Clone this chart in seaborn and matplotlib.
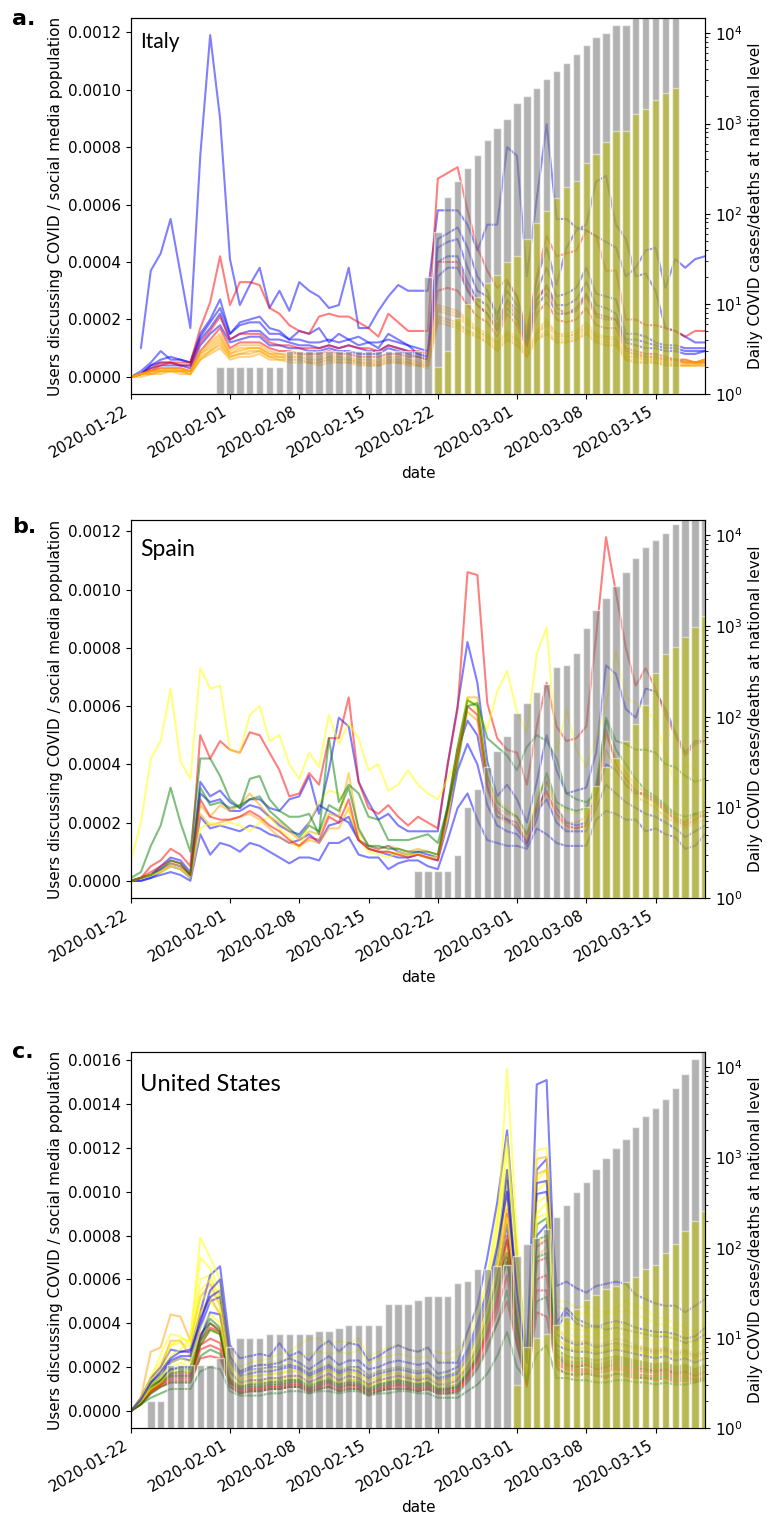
"""
Social media COVID discussion vs. national case/death counts
(Italy, Spain, United States).
"""

import numpy as np
import pandas as pd
import matplotlib
matplotlib.use("Agg")
import matplotlib.pyplot as plt
import matplotlib.dates as mdates
import seaborn as sns

nan = np.nan
SCALE = 1e-5  # line values below are in units of 1e-5

DATES = pd.date_range("2020-01-22", "2020-03-20", freq="D")
TICK_DATES = ["2020-01-22", "2020-02-01", "2020-02-08", "2020-02-15",
              "2020-02-22", "2020-03-01", "2020-03-08", "2020-03-15"]

# ---------------- Italy ----------------
IT_BLUE_1 = [nan, 10, 37, 43, 55, 36, 17, 77, 119, 90,
             41, 25, 32, 38, 24, 30, 23, 33, 30, 28,
             24, 25, 38, 17, 17, 23, 28, 32, 30, 30,
             30, 58, 58, 58, 53, 44, 53, 53, 80, 77,
             35, 62, 88, 55, 55, 52, 51, 49, 47, 45,
             35, 38, 44, 45, 31, 41, 38, 41, 42]
IT_RED_1 = [0, 1, 2, 4, 5, 5, 5, 17, 26, 42,
            25, 33, 33, 32, 24, 22, 18, 16, 15, 21,
            22, 21, 21, 19, 17, 14, 22, 19, 16, 16,
            16, 69, 71, 73, 58, 45, 37, 31, 34, 28,
            16, 35, 49, 42, 43, 44, 51, 49, 37, 37,
            20, 20, 18, 18, 17, 16, 14, 16, 16]
IT_BLUE_2 = [0, 1, 4, 6, 7, 6, 5, 14, 19, 24,
             15, 18, 19, 19, 15, 15, 13, 13, 12, 12,
             13, 12, 13, 14, 12, 12, 13, 12, 11, 10,
             9, 48, 50, 52, 45, 35, 30, 20, 33, 28,
             14, 34, 45, 32, 45, 51, 53, 68, 70, 53,
             48, 35, 36, 30, 17, 16, 14, 12, 12]
IT_BLUE_3 = [0, 2, 5, 9, 6, 6, 5, 15, 20, 27,
             15, 19, 20, 21, 17, 16, 13, 16, 15, 17,
             12, 15, 13, 11, 12, 10, 15, 13, 11, 8,
             7, 45, 47, 48, 38, 30, 28, 22, 30, 25,
             13, 30, 38, 28, 29, 31, 38, 29, 28, 27,
             15, 15, 14, 12, 11, 11, 10, 10, 10]
IT_BLUE_4 = [0, 1, 4, 5, 5, 4, 4, 13, 17, 22,
             13, 15, 16, 16, 13, 13, 12, 11, 11, 10,
             11, 10, 11, 10, 9, 9, 11, 10, 9, 8,
             7, 40, 42, 42, 33, 27, 25, 18, 27, 23,
             12, 27, 32, 25, 25, 27, 33, 25, 24, 22,
             13, 13, 12, 11, 10, 10, 9, 9, 9]
IT_BLUE_5 = [0, 1, 3, 4, 4, 4, 3, 11, 15, 18,
             12, 13, 14, 14, 11, 11, 10, 10, 9, 9,
             10, 9, 9, 8, 8, 8, 10, 9, 8, 7,
             6, 35, 38, 38, 30, 25, 22, 16, 24, 20,
             11, 25, 29, 22, 22, 24, 29, 22, 21, 20,
             12, 11, 10, 10, 9, 9, 8, 8, 9]
IT_RED_2 = [0, 1, 3, 5, 5, 4, 4, 12, 16, 21,
            13, 15, 15, 15, 12, 11, 11, 10, 10, 10,
            11, 10, 11, 10, 10, 9, 11, 10, 9, 9,
            8, 40, 40, 40, 31, 25, 22, 17, 26, 21,
            11, 27, 31, 24, 22, 23, 28, 21, 20, 20,
            10, 9, 8, 8, 7, 6, 6, 5, 6]
IT_RED_3 = [0, 1, 2, 3, 3, 3, 2, 9, 13, 17,
            10, 12, 12, 12, 10, 9, 9, 8, 8, 8,
            9, 8, 8, 7, 7, 7, 8, 8, 7, 7,
            6, 30, 31, 30, 25, 21, 19, 14, 22, 18,
            10, 22, 26, 20, 19, 20, 24, 18, 17, 17,
            9, 8, 7, 7, 6, 6, 5, 5, 5]
IT_ORANGE_1 = [0, 1, 2, 3, 3, 3, 2, 9, 12, 15,
               9, 11, 11, 11, 9, 8, 8, 8, 7, 7,
               8, 7, 7, 6, 6, 6, 7, 7, 6, 6,
               5, 25, 24, 23, 20, 17, 15, 12, 16, 14,
               9, 16, 20, 15, 15, 16, 19, 15, 14, 14,
               8, 8, 7, 7, 6, 6, 6, 5, 6]
IT_ORANGE_2 = [0, 1, 2, 2, 2, 2, 2, 8, 10, 13,
               8, 9, 10, 10, 8, 7, 7, 7, 6, 6,
               7, 6, 6, 5, 5, 5, 6, 6, 5, 5,
               4, 23, 22, 21, 18, 16, 14, 11, 15, 13,
               8, 15, 18, 14, 14, 15, 17, 14, 13, 13,
               7, 7, 6, 6, 5, 5, 5, 5, 5]
IT_ORANGE_3 = [0, 1, 1, 2, 2, 2, 1, 7, 9, 11,
               7, 8, 8, 9, 7, 6, 6, 6, 5, 5,
               6, 5, 5, 5, 4, 4, 5, 5, 5, 4,
               4, 21, 20, 19, 16, 15, 13, 10, 14, 12,
               7, 14, 16, 13, 13, 14, 16, 13, 12, 12,
               6, 6, 6, 5, 5, 4, 4, 4, 5]
IT_ORANGE_4 = [0, 0, 1, 1, 2, 1, 1, 6, 8, 10,
               6, 7, 7, 8, 6, 6, 5, 5, 5, 4,
               5, 5, 5, 4, 4, 4, 5, 5, 4, 4,
               3, 19, 18, 17, 15, 14, 12, 9, 13, 11,
               7, 13, 15, 12, 12, 13, 15, 12, 11, 11,
               6, 5, 5, 5, 4, 4, 4, 4, 4]
IT_ORANGE_5 = [0, 1, 2, 2, 3, 2, 2, 8, 11, 14,
               8, 10, 10, 10, 8, 8, 7, 7, 6, 6,
               7, 7, 6, 6, 6, 5, 7, 6, 6, 5,
               5, 24, 23, 22, 19, 16, 14, 12, 15, 13,
               8, 15, 19, 15, 14, 15, 18, 14, 14, 13,
               7, 7, 7, 6, 6, 5, 5, 5, 6]
IT_ORANGE_6 = [0, 1, 1, 2, 2, 2, 1, 6, 9, 12,
               7, 8, 9, 9, 7, 7, 6, 6, 5, 5,
               6, 6, 6, 5, 5, 4, 6, 5, 5, 4,
               4, 20, 19, 18, 16, 14, 12, 9, 13, 11,
               7, 13, 15, 12, 12, 13, 15, 12, 11, 11,
               6, 5, 5, 5, 4, 4, 4, 4, 4]

IT_CASES_START = "2020-01-31"
IT_CASES = [2, 2, 2, 2, 2, 2, 2,
            3, 3, 3, 3, 3, 3, 3, 3, 3, 3, 3, 3, 3, 3,
            20, 62, 155, 229, 322, 453, 655, 888, 1128, 1694,
            2036, 2502, 3089, 3858, 4636, 5883, 7375, 9172, 10149, 12462,
            12462, 17660, 21157, 24747, 27980, 31506]
IT_DEATHS_START = "2020-02-21"
IT_DEATHS = [1, 2, 3, 7, 10, 12, 17, 21, 29, 34,
             52, 79, 107, 148, 197, 233, 366, 463, 631, 827,
             827, 1266, 1441, 1809, 2158, 2503]

# ---------------- Spain ----------------
ES_YELLOW_1 = [7, 20, 42, 48, 66, 41, 35, 73, 66, 67,
               45, 44, 57, 60, 48, 50, 40, 35, 44, 39,
               57, 47, 54, 49, 38, 40, 31, 33, 38, 33,
               30, 28, 35, 42, 63, 58, 52, 65, 72, 58,
               51, 78, 87, 44, 59, 45, 39, 49, 60, 79,
               63, 61, 59, 55, 43, 33, 40, 38, 25]
ES_RED_1 = [0, 1, 5, 7, 11, 9, 5, 50, 42, 48,
            45, 44, 51, 50, 44, 38, 29, 30, 37, 33,
            49, 49, 63, 34, 25, 23, 26, 22, 19, 22,
            20, 18, 40, 59, 106, 105, 61, 49, 45, 44,
            33, 53, 68, 53, 48, 49, 53, 84, 118, 99,
            80, 67, 73, 66, 57, 50, 43, 47, 48]
ES_GREEN_1 = [1, 3, 12, 19, 32, 20, 10, 42, 42, 36,
              28, 25, 35, 36, 28, 24, 22, 22, 23, 16,
              49, 27, 33, 30, 22, 21, 14, 14, 14, 15,
              16, 13, 25, 40, 60, 61, 49, 46, 43, 38,
              46, 50, 48, 42, 30, 28, 27, 30, 56, 48,
              47, 45, 45, 44, 40, 39, 36, 34, 35]
ES_BLUE_1 = [0, 1, 2, 5, 8, 7, 3, 34, 29, 31,
             27, 25, 28, 28, 25, 24, 28, 29, 36, 23,
             38, 56, 53, 34, 27, 21, 23, 19, 17, 17,
             17, 17, 40, 60, 82, 68, 41, 29, 33, 28,
             20, 34, 50, 38, 30, 31, 32, 44, 74, 71,
             59, 56, 66, 65, 59, 51, 44, 48, 48]
ES_BLUE_2 = [0, 1, 2, 4, 6, 5, 2, 30, 27, 28,
             24, 24, 26, 25, 22, 19, 17, 16, 20, 26,
             24, 22, 20, 14, 12, 11, 12, 10, 9, 10,
             9, 8, 25, 45, 55, 50, 32, 22, 21, 18,
             13, 21, 34, 25, 20, 19, 20, 30, 40, 38,
             33, 30, 30, 28, 25, 22, 20, 23, 22]
ES_BLUE_3 = [0, 0, 1, 2, 3, 2, 0, 16, 9, 13,
             12, 10, 13, 12, 10, 8, 6, 8, 8, 7,
             13, 13, 15, 9, 8, 8, 4, 6, 7, 7,
             5, 4, 14, 25, 30, 21, 14, 13, 12, 12,
             11, 18, 16, 13, 12, 12, 12, 21, 24, 23,
             21, 21, 17, 18, 16, 15, 11, 12, 16]
ES_BLUE_4 = [0, 0, 1, 3, 5, 4, 1, 22, 18, 19,
             18, 17, 19, 18, 16, 15, 13, 14, 16, 13,
             19, 20, 22, 14, 11, 10, 9, 8, 8, 9,
             8, 7, 20, 38, 47, 40, 26, 19, 17, 16,
             12, 24, 28, 20, 17, 17, 17, 25, 33, 30,
             27, 25, 23, 22, 20, 18, 15, 17, 19]
ES_ORANGE_1 = [0, 1, 2, 3, 6, 5, 2, 26, 22, 26,
               24, 26, 30, 26, 22, 20, 17, 14, 17, 16,
               23, 22, 37, 17, 12, 11, 12, 11, 10, 11,
               10, 9, 25, 45, 63, 63, 35, 25, 23, 22,
               15, 28, 35, 25, 20, 20, 22, 32, 50, 42,
               37, 33, 30, 28, 25, 22, 20, 22, 24]
ES_ORANGE_2 = [0, 1, 2, 3, 5, 4, 2, 23, 19, 20,
               21, 22, 23, 21, 18, 15, 13, 12, 14, 13,
               18, 18, 25, 14, 11, 10, 10, 9, 9, 9,
               8, 8, 22, 42, 58, 55, 31, 22, 20, 19,
               14, 24, 30, 22, 18, 18, 19, 28, 45, 38,
               33, 29, 27, 25, 22, 20, 18, 20, 21]
ES_RED_2 = [0, 1, 3, 5, 7, 6, 2, 28, 22, 21,
            21, 22, 24, 22, 19, 17, 14, 12, 15, 14,
            22, 20, 28, 14, 11, 10, 10, 9, 8, 9,
            8, 7, 24, 43, 60, 57, 33, 24, 21, 20,
            13, 25, 31, 23, 19, 18, 19, 27, 52, 40,
            35, 31, 29, 27, 24, 21, 19, 21, 23]
ES_GREEN_2 = [0, 1, 2, 4, 7, 6, 2, 32, 26, 27,
              25, 26, 28, 29, 24, 21, 18, 15, 19, 17,
              26, 24, 32, 18, 12, 12, 11, 11, 10, 10,
              10, 9, 26, 46, 62, 60, 36, 27, 24, 22,
              16, 26, 37, 27, 25, 24, 25, 33, 55, 45,
              40, 35, 31, 29, 26, 23, 22, 23, 24]
ES_YELLOW_2 = [0, 1, 2, 3, 5, 4, 1, 18, 20, 19,
               20, 19, 17, 20, 22, 18, 15, 11, 20, 27,
               31, 30, 24, 15, 10, 9, 8, 10, 9, 9,
               8, 8, 22, 45, 62, 61, 36, 28, 25, 22,
               16, 30, 33, 26, 24, 23, 24, 30, 50, 42,
               36, 32, 28, 26, 24, 22, 21, 22, 23]

ES_CASES_START = "2020-02-20"
ES_CASES = [2, 2, 2, 2, 3, 10, 16, 28, 42, 62,
            110, 143, 187, 230, 355, 375, 510, 960, 1520, 2030,
            2800, 4000, 5700, 7400, 8900, 10700, 13400, 17000, 20000, 25000]
ES_DEATHS_START = "2020-03-08"
ES_DEATHS = [10, 17, 28, 35, 54, 84, 133, 300, 490, 590, 755, 975, 1300]

# ---------------- United States ----------------
US_YELLOW_1 = [0, 5, 14, 18, 25, 28, 33, 79, 70, 60,
               25, 15, 18, 19, 19, 20, 22, 21, 18, 20,
               22, 19, 20, 19, 16, 18, 19, 20, 19, 18,
               19, 16, 17, 18, 25, 35, 52, 80, 156, 80,
               20, 90, 95, 40, 38, 37, 37, 35, 36, 38,
               37, 36, 35, 34, 35, 32, 33, 30, 33]
US_YELLOW_2 = [0, 4, 12, 16, 30, 33, 32, 70, 65, 55,
               22, 13, 15, 16, 17, 17, 19, 18, 15, 17,
               19, 16, 17, 16, 14, 16, 17, 17, 16, 15,
               16, 13, 14, 16, 22, 30, 45, 70, 120, 70,
               18, 119, 120, 45, 40, 39, 38, 37, 38, 40,
               39, 38, 36, 35, 36, 33, 34, 31, 33]
US_YELLOW_3 = [0, 3, 9, 12, 20, 22, 20, 45, 50, 45,
               18, 11, 13, 13, 14, 14, 15, 15, 12, 14,
               16, 13, 15, 14, 12, 13, 14, 15, 14, 13,
               14, 11, 12, 14, 20, 28, 40, 60, 95, 60,
               16, 75, 80, 30, 28, 27, 28, 26, 27, 29,
               28, 27, 26, 25, 26, 24, 25, 23, 25]
US_YELLOW_4 = [0, 4, 14, 26, 35, 34, 30, 60, 62, 50,
               28, 20, 22, 23, 24, 26, 27, 30, 33, 33,
               30, 32, 31, 33, 25, 27, 29, 30, 28, 27,
               28, 27, 26, 28, 35, 45, 60, 90, 110, 75,
               22, 100, 105, 50, 50, 47, 48, 46, 45, 47,
               50, 48, 46, 43, 42, 40, 38, 36, 40]
US_YELLOW_5 = [0, 5, 16, 22, 30, 31, 29, 55, 60, 52,
               24, 18, 20, 21, 22, 23, 24, 25, 26, 27,
               26, 27, 26, 28, 22, 24, 25, 26, 25, 24,
               25, 23, 23, 25, 32, 42, 58, 85, 125, 70,
               20, 105, 110, 48, 46, 44, 45, 43, 44, 45,
               46, 44, 42, 40, 39, 37, 36, 34, 37]
US_YELLOW_6 = [0, 4, 11, 15, 22, 24, 22, 50, 55, 48,
               20, 14, 16, 16, 17, 17, 18, 18, 15, 17,
               19, 16, 18, 17, 14, 15, 17, 18, 17, 16,
               17, 14, 15, 16, 23, 32, 46, 66, 105, 60,
               17, 95, 98, 38, 35, 34, 34, 33, 34, 36,
               35, 34, 33, 31, 32, 30, 31, 28, 31]
US_YELLOW_7 = [0, 4, 10, 13, 18, 19, 18, 38, 44, 40,
               16, 12, 13, 13, 14, 14, 15, 15, 12, 14,
               15, 13, 14, 14, 11, 13, 14, 15, 14, 13,
               14, 11, 12, 13, 19, 27, 40, 56, 88, 48,
               15, 88, 90, 32, 30, 29, 30, 28, 29, 31,
               30, 29, 28, 27, 28, 26, 27, 25, 27]
US_BLUE_1 = [0, 6, 15, 20, 28, 27, 28, 45, 62, 66,
             30, 24, 25, 26, 25, 31, 25, 27, 23, 29,
             32, 27, 31, 30, 23, 25, 28, 30, 28, 27,
             29, 22, 22, 22, 36, 48, 70, 95, 128, 70,
             25, 110, 115, 57, 59, 56, 54, 57, 58, 59,
             58, 53, 51, 49, 48, 48, 45, 48, 51]
US_BLUE_2 = [0, 5, 13, 18, 24, 27, 27, 40, 55, 60,
             25, 18, 20, 21, 21, 22, 24, 22, 19, 22,
             25, 21, 23, 23, 19, 20, 22, 23, 22, 21,
             22, 17, 18, 20, 28, 40, 55, 75, 100, 55,
             22, 149, 151, 40, 47, 42, 40, 38, 40, 41,
             40, 38, 37, 36, 36, 35, 33, 34, 38]
US_BLUE_3 = [0, 4, 12, 16, 22, 24, 23, 38, 50, 52,
             22, 16, 17, 18, 18, 19, 20, 19, 16, 18,
             20, 17, 19, 18, 15, 17, 18, 19, 18, 17,
             18, 14, 15, 17, 24, 35, 50, 68, 105, 50,
             18, 99, 100, 35, 32, 30, 31, 29, 30, 31,
             30, 29, 28, 27, 28, 26, 27, 25, 27]
US_BLUE_4 = [0, 4, 11, 14, 19, 20, 20, 33, 45, 44,
             18, 13, 14, 14, 15, 15, 16, 16, 13, 15,
             17, 14, 16, 15, 12, 14, 15, 16, 15, 14,
             15, 12, 12, 14, 20, 30, 45, 60, 85, 45,
             16, 80, 85, 30, 28, 27, 27, 26, 27, 28,
             27, 26, 25, 24, 25, 23, 24, 22, 24]
US_BLUE_5 = [0, 5, 13, 17, 23, 25, 25, 42, 52, 55,
             23, 17, 19, 19, 20, 20, 21, 20, 17, 19,
             21, 18, 20, 20, 16, 18, 19, 20, 19, 18,
             19, 15, 16, 18, 26, 37, 52, 72, 110, 52,
             20, 104, 105, 37, 45, 40, 38, 39, 37, 38,
             37, 36, 35, 34, 34, 33, 31, 32, 35]
US_ORANGE_1 = [0, 6, 27, 29, 44, 43, 32, 52, 58, 48,
               20, 14, 16, 16, 17, 17, 18, 18, 15, 17,
               19, 16, 18, 17, 14, 15, 17, 17, 16, 15,
               16, 13, 14, 15, 22, 32, 48, 65, 100, 55,
               18, 115, 116, 38, 33, 31, 32, 30, 31, 33,
               32, 30, 29, 28, 29, 27, 28, 26, 28]
US_ORANGE_2 = [0, 4, 10, 13, 17, 18, 17, 30, 37, 35,
               15, 11, 12, 12, 13, 13, 14, 14, 11, 13,
               15, 12, 14, 13, 11, 12, 13, 14, 13, 12,
               13, 10, 11, 12, 18, 26, 40, 55, 75, 40,
               14, 70, 75, 27, 24, 23, 24, 22, 23, 25,
               24, 23, 22, 21, 22, 20, 21, 19, 21]
US_ORANGE_3 = [0, 5, 14, 20, 32, 32, 25, 45, 52, 44,
               17, 12, 14, 14, 15, 15, 16, 16, 13, 15,
               17, 14, 16, 15, 12, 14, 15, 16, 15, 14,
               15, 12, 13, 14, 20, 29, 44, 62, 92, 50,
               16, 108, 110, 33, 29, 28, 29, 27, 28, 30,
               29, 28, 27, 26, 27, 25, 26, 24, 26]
US_RED_1 = [0, 4, 11, 14, 17, 17, 17, 35, 40, 37,
            14, 10, 11, 11, 12, 12, 13, 13, 10, 12,
            14, 11, 13, 12, 10, 11, 12, 13, 12, 11,
            12, 10, 10, 11, 17, 25, 38, 52, 90, 40,
            13, 75, 78, 25, 22, 21, 22, 20, 21, 23,
            22, 21, 20, 19, 20, 18, 19, 17, 19]
US_RED_2 = [0, 3, 8, 11, 13, 13, 13, 24, 25, 24,
            12, 8, 9, 9, 10, 10, 11, 11, 8, 10,
            11, 9, 10, 10, 7, 9, 10, 10, 10, 9,
            10, 8, 8, 9, 14, 20, 30, 40, 50, 30,
            12, 45, 43, 20, 17, 16, 17, 16, 15, 17,
            16, 15, 15, 14, 15, 13, 14, 13, 15]
US_RED_3 = [0, 4, 9, 12, 15, 15, 15, 30, 33, 31,
            13, 9, 10, 10, 11, 11, 12, 12, 9, 11,
            12, 10, 12, 11, 9, 10, 11, 12, 11, 10,
            11, 9, 9, 10, 16, 23, 35, 48, 70, 35,
            12, 60, 62, 22, 20, 19, 19, 18, 19, 20,
            19, 18, 18, 17, 18, 16, 17, 15, 17]
US_RED_4 = [0, 4, 10, 13, 16, 16, 16, 32, 38, 36,
            13, 9, 10, 10, 11, 11, 12, 12, 10, 11,
            13, 10, 12, 11, 9, 10, 11, 12, 11, 10,
            11, 9, 9, 10, 16, 24, 36, 50, 80, 38,
            12, 68, 70, 23, 21, 20, 21, 19, 20, 21,
            20, 19, 19, 18, 19, 17, 18, 16, 18]
US_RED_5 = [0, 3, 9, 12, 14, 14, 14, 28, 30, 28,
            11, 8, 9, 9, 10, 10, 11, 11, 9, 10,
            11, 9, 11, 10, 8, 9, 10, 11, 10, 9,
            10, 8, 8, 9, 15, 22, 33, 45, 62, 32,
            11, 55, 55, 21, 19, 18, 18, 17, 18, 19,
            18, 17, 16, 16, 17, 15, 16, 14, 16]
US_GREEN_1 = [0, 4, 10, 13, 16, 16, 16, 30, 37, 35,
              13, 10, 11, 11, 12, 12, 13, 13, 10, 12,
              13, 11, 12, 12, 9, 11, 12, 13, 12, 11,
              12, 9, 10, 11, 17, 25, 40, 55, 68, 38,
              14, 70, 72, 25, 21, 20, 21, 19, 20, 22,
              21, 20, 19, 18, 19, 17, 18, 16, 18]
US_GREEN_2 = [0, 3, 6, 8, 10, 10, 10, 18, 20, 19,
              9, 7, 7, 7, 8, 8, 9, 9, 8, 9,
              9, 8, 9, 9, 7, 8, 8, 9, 9, 8,
              8, 6, 6, 6, 9, 12, 17, 25, 36, 20,
              14, 26, 30, 15, 15, 14, 14, 13, 13, 14,
              14, 13, 13, 12, 13, 12, 12, 13, 14]
US_GREEN_3 = [0, 5, 12, 15, 19, 19, 19, 34, 42, 38,
              15, 11, 12, 13, 13, 14, 14, 14, 12, 13,
              15, 12, 14, 14, 11, 12, 13, 14, 13, 12,
              13, 10, 11, 12, 19, 28, 45, 62, 78, 45,
              15, 85, 88, 28, 25, 24, 24, 23, 24, 25,
              24, 23, 22, 21, 22, 20, 21, 19, 21]
US_GREEN_4 = [0, 4, 11, 14, 17, 18, 18, 32, 40, 36,
              14, 11, 12, 12, 13, 13, 14, 14, 11, 13,
              14, 12, 13, 13, 10, 12, 13, 14, 13, 12,
              13, 10, 10, 11, 18, 27, 42, 58, 72, 40,
              15, 78, 80, 26, 23, 22, 23, 21, 22, 24,
              23, 22, 21, 20, 21, 19, 20, 18, 20]
US_GREEN_5 = [0, 3, 8, 11, 13, 13, 13, 25, 28, 26,
              11, 8, 9, 9, 10, 10, 11, 11, 9, 10,
              11, 9, 10, 10, 8, 9, 10, 10, 10, 9,
              10, 8, 8, 8, 13, 19, 28, 40, 55, 30,
              13, 50, 52, 19, 17, 17, 17, 16, 16, 17,
              17, 16, 15, 15, 16, 14, 15, 14, 15]

US_CASES_START = "2020-01-22"
US_CASES = [1, 1, 2, 2, 5, 5, 5, 5, 5, 6,
            8, 10, 10, 10, 11, 11, 11, 11, 11, 12,
            12, 13, 14, 14, 14, 14, 24, 24, 24, 26,
            29, 29, 29, 41, 43, 58, 58, 62, 64, 80,
            110, 128, 160, 219, 300, 414, 530, 738, 990, 1260,
            1620, 2180, 2870, 3560, 4500, 5900, 8400, 12500, 19000]
US_DEATHS_START = "2020-03-01"
US_DEATHS = [3, 8, 10, 11, 14, 17, 21, 26, 30, 35,
             38, 42, 47, 58, 65, 87, 110, 152, 196, 253]

W, H = 768, 1526


def panel_axes(fig, top, bottom, left=131, right=705):
    """Add an axes given pixel edges measured from the top-left corner."""
    return fig.add_axes([left / W, 1 - bottom / H, (right - left) / W, (bottom - top) / H])


def draw_panel(ax, lines, cases_start, cases, deaths_start, deaths):
    """Lines on the left axis, log-scaled count bars on a twin right axis."""
    for color, vals in lines:
        sns.lineplot(x=DATES, y=np.asarray(vals, dtype=float) * SCALE,
                     color=color, alpha=0.5, linewidth=1.5, ax=ax)
    ax.set_xlabel("date", fontsize=11)
    ax.set_ylabel("Users discussing COVID / social media population", fontsize=11)

    ax2 = ax.twinx()
    cdates = pd.date_range(cases_start, periods=len(cases), freq="D")
    ddates = pd.date_range(deaths_start, periods=len(deaths), freq="D")
    ax2.bar(cdates, cases, width=0.75, color="gray", alpha=0.6)
    ax2.bar(ddates, deaths, width=0.75, color="y", alpha=0.5)
    ax2.set_yscale("log")
    ax2.set_ylim(1, 1.48e4)
    ax2.set_ylabel("Daily COVID cases/deaths at national level", fontsize=11)
    ax2.tick_params(axis="y", labelsize=11)

    ax.set_xticks(pd.to_datetime(TICK_DATES))
    ax.xaxis.set_major_formatter(mdates.DateFormatter("%Y-%m-%d"))
    ax.set_xlim(DATES[0], DATES[-1])
    ax.tick_params(axis="both", labelsize=11)
    plt.setp(ax.get_xticklabels(), rotation=30, ha="right")
    return ax2


sns.set_style("ticks", {"axes.edgecolor": "black", "text.color": "black",
                        "axes.labelcolor": "black", "xtick.color": "black",
                        "ytick.color": "black"})
plt.rcParams["font.family"] = ["DejaVu Sans"]

fig = plt.figure(figsize=(W / 100, H / 100), dpi=100)

italy_lines = [("blue", IT_BLUE_1), ("blue", IT_BLUE_2), ("blue", IT_BLUE_3),
               ("blue", IT_BLUE_4), ("blue", IT_BLUE_5), ("red", IT_RED_1),
               ("red", IT_RED_2), ("red", IT_RED_3), ("orange", IT_ORANGE_1),
               ("orange", IT_ORANGE_5), ("orange", IT_ORANGE_2), ("orange", IT_ORANGE_3),
               ("orange", IT_ORANGE_6), ("orange", IT_ORANGE_4)]
spain_lines = [("blue", ES_BLUE_1), ("blue", ES_BLUE_2), ("blue", ES_BLUE_3),
               ("blue", ES_BLUE_4), ("red", ES_RED_1), ("yellow", ES_YELLOW_1),
               ("orange", ES_ORANGE_1), ("orange", ES_ORANGE_2), ("yellow", ES_YELLOW_2),
               ("red", ES_RED_2), ("green", ES_GREEN_1), ("green", ES_GREEN_2)]
us_lines = [("yellow", US_YELLOW_4), ("blue", US_BLUE_1), ("orange", US_ORANGE_1),
            ("yellow", US_YELLOW_5), ("blue", US_BLUE_3), ("yellow", US_YELLOW_3),
            ("red", US_RED_1), ("green", US_GREEN_3), ("orange", US_ORANGE_2),
            ("blue", US_BLUE_4), ("red", US_RED_4), ("orange", US_ORANGE_3),
            ("red", US_RED_3), ("green", US_GREEN_1), ("yellow", US_YELLOW_6),
            ("green", US_GREEN_4), ("blue", US_BLUE_5), ("yellow", US_YELLOW_2),
            ("red", US_RED_5), ("yellow", US_YELLOW_7), ("red", US_RED_2),
            ("green", US_GREEN_5), ("green", US_GREEN_2), ("yellow", US_YELLOW_1),
            ("blue", US_BLUE_2)]

panels = [
    (18, 394, italy_lines, IT_CASES_START, IT_CASES, IT_DEATHS_START, IT_DEATHS,
     "a.", 25, "Italy", 48, 15),
    (520, 898, spain_lines, ES_CASES_START, ES_CASES, ES_DEATHS_START, ES_DEATHS,
     "b.", 533, "Spain", 556, 16.5),
    (1052, 1428, us_lines, US_CASES_START, US_CASES, US_DEATHS_START, US_DEATHS,
     "c.", 1058, "United States", 1091, 17),
]

for top, bottom, lines, cs, c, ds, d, letter, ly, name, ny, nsize in panels:
    ax = panel_axes(fig, top, bottom)
    draw_panel(ax, lines, cs, c, ds, d)
    fig.text(12 / W, 1 - ly / H, letter, fontsize=16, fontweight="bold",
             va="baseline", ha="left")
    fig.text(140 / W, 1 - ny / H, name, fontsize=nsize, family=["Lato", "DejaVu Sans"],
             va="baseline", ha="left")

fig.savefig("out.png", dpi=100)
